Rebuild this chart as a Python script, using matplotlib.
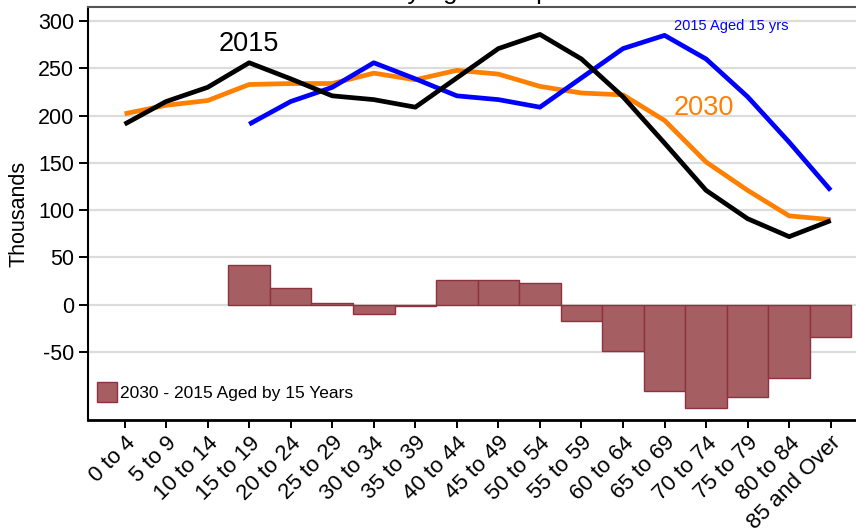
import matplotlib
matplotlib.use("Agg")
import matplotlib.pyplot as plt
import numpy as np

plt.rcParams['font.family'] = ['Liberation Sans', 'DejaVu Sans']
plt.rcParams['axes.unicode_minus'] = False

age_groups = ["0 to 4", "5 to 9", "10 to 14", "15 to 19", "20 to 24", "25 to 29",
              "30 to 34", "35 to 39", "40 to 44", "45 to 49", "50 to 54", "55 to 59",
              "60 to 64", "65 to 69", "70 to 74", "75 to 79", "80 to 84", "85 and Over"]

pop_2015 = [191, 215, 230, 256, 239, 221, 217, 209, 240, 271, 286, 260,
            220, 171, 121, 91, 72, 89]
pop_2030 = [202, 211, 216, 233, 234, 234, 245, 238, 248, 244, 231, 224,
            222, 195, 151, 121, 94, 90]
aged_2015 = [None, None, None, 191, 215, 230, 256, 239, 221, 217, 209, 240,
             271, 285, 260, 220, 172, 121]
diff_aged = [None, None, None, 42, 18, 2, -10, -1, 26, 26, 23, -17,
             -49, -91, -109, -98, -78, -34]

yticks = [-50, 0, 50, 100, 150, 200, 250, 300]

fig = plt.figure(figsize=(8.56, 5.29), dpi=100)
ax = fig.add_axes([88/856, 1 - 420/529, 1 - 88/856 + 0.001, (420 - 7)/529])

x = np.arange(len(age_groups))

# gridlines
ax.set_axisbelow(True)
ax.yaxis.grid(True, color='#DCDCDC', linewidth=1.6)
ax.xaxis.grid(False)

# bars
bx = [xi for xi, v in zip(x, diff_aged) if v is not None]
bv = [v for v in diff_aged if v is not None]
ax.bar(bx, bv, width=1.0, color='#A55E62', edgecolor='#8E3241', linewidth=1.0,
       label='2030 - 2015 Aged by 15 Years', zorder=2)

# lines
ax.plot(x, pop_2030, color='#FF7F00', linewidth=3.4, zorder=3, solid_capstyle='butt')
ax_x = [xi for xi, v in zip(x, aged_2015) if v is not None]
ax_v = [v for v in aged_2015 if v is not None]
ax.plot(ax_x, ax_v, color='#0000FF', linewidth=3.4, zorder=4, solid_capstyle='butt')
ax.plot(x, pop_2015, color='black', linewidth=3.4, zorder=5, solid_capstyle='butt')

ax.text(3.0, 276, "2015", fontsize=19.5, color='black', ha='center', va='center')
ax.text(13.94, 208, "2030", fontsize=19.5, color='#FF7F00', ha='center', va='center')
ax.text(13.22, 294.5, "2015 Aged 15 yrs", fontsize=10.5, color='#0000FF',
        ha='left', va='center')

ax.set_xlim(-0.88, 17.63)
ax.set_ylim(-122, 315)
ax.set_yticks(yticks)
ax.set_yticklabels([str(v) for v in yticks], fontsize=15.5)
ax.set_xticks(x)
ax.set_xticklabels(age_groups, rotation=45, ha='right', rotation_mode='anchor',
                   fontsize=16)
ax.tick_params(axis='y', direction='out', length=6.5, width=1.4, pad=3.5)
ax.tick_params(axis='x', direction='out', length=6, width=1.4, pad=3)

ax.set_ylabel("Thousands", fontsize=15.5, labelpad=6)

ax.spines['right'].set_visible(False)
ax.spines['top'].set_color('#555555')
ax.spines['top'].set_linewidth(1.5)
ax.spines['left'].set_linewidth(1.5)
ax.spines['bottom'].set_linewidth(2.0)

leg = ax.legend(loc='center left', bbox_to_anchor=(0.0117, 0.068), frameon=False,
                fontsize=12.5, handlelength=1.15, handleheight=1.4, handletextpad=0.2,
                borderpad=0, borderaxespad=0)

fig.text((88 + 856) / 2 / 856, 1 - 4.5/529, "Population Change\nby Age Group",
         fontsize=18.5, ha='center', va='bottom', multialignment='center')

fig.savefig("out.png", dpi=100)
